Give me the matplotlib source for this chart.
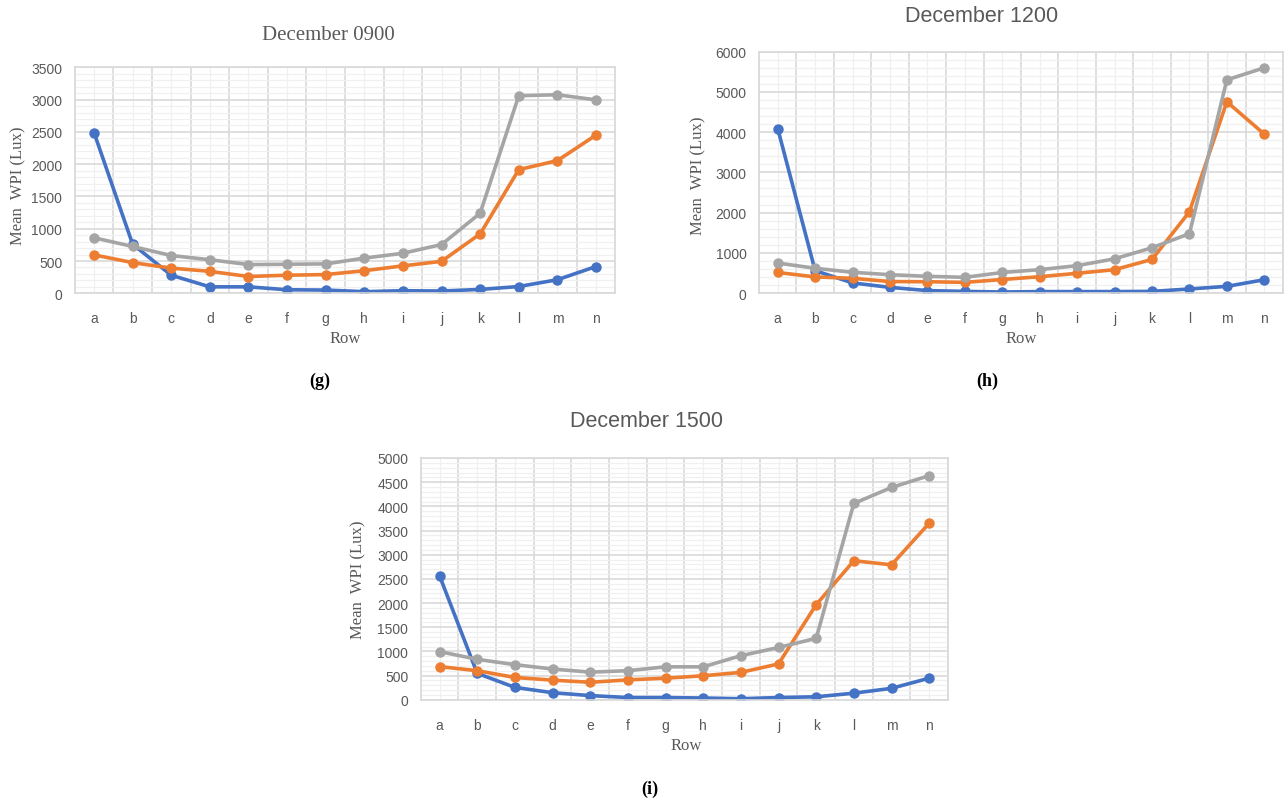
import numpy as np
import matplotlib
matplotlib.use('Agg')
import matplotlib.pyplot as plt
from matplotlib.ticker import MultipleLocator

# data
rows = ['a', 'b', 'c', 'd', 'e', 'f', 'g', 'h', 'i', 'j', 'k', 'l', 'm', 'n']

blue_0900 = [2490, 760, 280, 100, 100, 55, 50, 25, 40, 35, 60, 105, 210, 415]
orange_0900 = [595, 475, 390, 340, 260, 280, 290, 350, 425, 495, 920, 1915, 2055, 2450]
gray_0900 = [860, 725, 585, 520, 445, 450, 455, 545, 620, 755, 1240, 3060, 3075, 2995]

blue_1200 = [4090, 555, 250, 140, 60, 40, 25, 35, 35, 35, 40, 100, 165, 330]
orange_1200 = [510, 400, 365, 285, 280, 265, 335, 405, 490, 580, 835, 2020, 4755, 3950]
gray_1200 = [745, 615, 515, 455, 415, 390, 510, 580, 680, 850, 1125, 1475, 5300, 5600]

blue_1500 = [2565, 545, 255, 145, 85, 45, 45, 35, 20, 45, 60, 135, 235, 445]
orange_1500 = [685, 600, 460, 405, 360, 410, 445, 495, 565, 740, 1965, 2875, 2790, 3650]
gray_1500 = [995, 835, 725, 635, 570, 600, 680, 680, 910, 1080, 1270, 4060, 4390, 4635]

W, H = 1288, 804
BLUE = '#4472C4'
ORANGE = '#ED7D31'
GRAY = '#A5A5A5'
TXT = '#595959'

fig = plt.figure(figsize=(W / 100, H / 100), dpi=100)


def px(x, y):
    return x / W, 1 - y / H


def panel(rect, series, ymax, major, minor):
    ax = fig.add_axes(rect)
    x = np.arange(len(rows))
    for vals, c in series:
        ax.plot(x, vals, color=c, lw=2.6, marker='o', ms=6.5, solid_capstyle='round')
    ax.set_xlim(-0.5, len(rows) - 0.5)
    ax.set_ylim(0, ymax)
    ax.set_xticks(x)
    ax.set_xticklabels(rows)
    ax.xaxis.set_minor_locator(MultipleLocator(1, offset=0.5))
    ax.yaxis.set_major_locator(MultipleLocator(major))
    ax.yaxis.set_minor_locator(MultipleLocator(minor))
    # excel-like grid
    ax.grid(which='major', axis='y', color='#D9D9D9', lw=1.2)
    ax.grid(which='minor', axis='y', color='#F0F0F0', lw=0.9)
    ax.grid(which='minor', axis='x', color='#D9D9D9', lw=1.2)
    ax.grid(which='major', axis='x', color='#F0F0F0', lw=0.9)
    ax.set_axisbelow(True)
    for s in ax.spines.values():
        s.set_color('#D9D9D9')
        s.set_linewidth(1.2)
    ax.tick_params(which='both', length=0, colors=TXT, labelsize=10)
    ax.tick_params(axis='x', pad=13)
    ax.tick_params(axis='y', pad=9)
    for t in ax.get_xticklabels() + ax.get_yticklabels():
        t.set_fontfamily('Liberation Sans')
    return ax


# December 0900
panel([74.7 / W, 1 - 294.3 / H, 540.6 / W, 226 / H],
      [(blue_0900, BLUE), (orange_0900, ORANGE), (gray_0900, GRAY)], 3500, 500, 100)
# December 1200
panel([759 / W, 1 - 294 / H, 524 / W, 241.3 / H],
      [(blue_1200, BLUE), (orange_1200, ORANGE), (gray_1200, GRAY)], 6000, 1000, 200)
# December 1500
panel([420.7 / W, 1 - 700.7 / H, 527.3 / W, 241.7 / H],
      [(blue_1500, BLUE), (orange_1500, ORANGE), (gray_1500, GRAY)], 5000, 500, 100)

# titles
fig.text(*px(328, 35), 'December 0900', ha='center', va='center', fontsize=15,
         family='Liberation Serif', color=TXT)
fig.text(*px(982, 17), 'December 1200', ha='center', va='center', fontsize=15.5,
         family='Liberation Sans', color=TXT)
fig.text(*px(647, 422), 'December 1500', ha='center', va='center', fontsize=15.5,
         family='Liberation Sans', color=TXT)

# axis labels
for x, y in [(18, 186), (698, 176), (358, 580)]:
    fig.text(*px(x, y), 'Mean  WPI (Lux)', ha='center', va='center', rotation=90,
             fontsize=12, family='Liberation Serif', color=TXT)
for x, y in [(345, 339), (1021, 339), (686, 746)]:
    fig.text(*px(x, y), 'Row', ha='center', va='center', fontsize=12,
             family='Liberation Serif', color=TXT)

# panel letters
for x, y, s in [(320, 381, '(g)'), (987, 381, '(h)'), (650, 789, '(i)')]:
    fig.text(*px(x, y), s, ha='center', va='center', fontsize=13, fontweight='bold',
             family='Liberation Serif', color='black')

fig.savefig('out.png', dpi=100)
